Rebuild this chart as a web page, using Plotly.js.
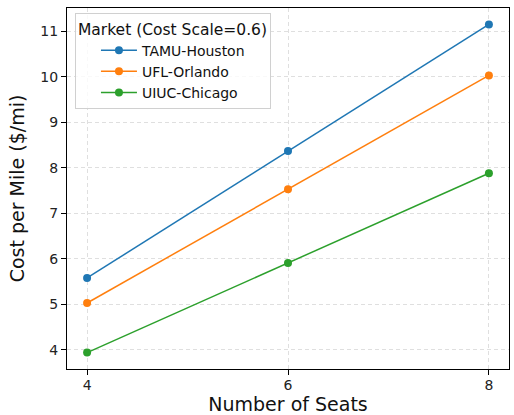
<!DOCTYPE html>
<html>
<head>
<meta charset="utf-8">
<script src="https://cdn.plot.ly/plotly-3.0.1.min.js"></script>
<style>html,body{margin:0;padding:0;background:#fff;}#chart{width:514px;height:415px;}</style>
</head>
<body>
<div id="chart"></div>
<script>
const seats = [4, 6, 8];
const tamuHouston = [5.58, 8.37, 11.15];
const uflOrlando = [5.03, 7.53, 10.03];
const uiucChicago = [3.94, 5.91, 7.88];
const seriesNames = ["TAMU-Houston", "UFL-Orlando", "UIUC-Chicago"];
const colors = ["#1f77b4", "#ff7f0e", "#2ca02c"];
const font = "DejaVu Sans, sans-serif";

const allY = [tamuHouston, uflOrlando, uiucChicago];
const traces = allY.map((ys, i) => ({
  x: seats, y: ys, name: seriesNames[i], type: "scatter", mode: "lines+markers",
  line: {color: colors[i], width: 1.5},
  marker: {color: colors[i], size: 8}
}));

const flat = allY.flat();
const ymin = Math.min(...flat), ymax = Math.max(...flat);
const ypad = (ymax - ymin) * 0.05;
const xpad = (Math.max(...seats) - Math.min(...seats)) * 0.05;

const axisCommon = {
  showline: true, mirror: true, linecolor: "#000", linewidth: 1,
  ticks: "outside", ticklen: 5, tickwidth: 1, tickcolor: "#000",
  showgrid: true, gridcolor: "rgba(176,176,176,0.4)", griddash: "4px,3px", gridwidth: 1,
  zeroline: false,
  tickfont: {family: font, size: 14, color: "#222"}
};

const layout = {
  width: 514, height: 415,
  margin: {l: 67, r: 5, t: 8, b: 46},
  paper_bgcolor: "#fff", plot_bgcolor: "#fff",
  showlegend: true,
  xaxis: Object.assign({}, axisCommon, {
    range: [Math.min(...seats) - xpad, Math.max(...seats) + xpad],
    tickvals: seats,
    ticklabelstandoff: -2,
    title: {text: "Number of Seats", font: {family: font, size: 19, color: "#111"}, standoff: 6}
  }),
  yaxis: Object.assign({}, axisCommon, {
    range: [ymin - ypad, ymax + ypad],
    dtick: 1,
    title: {text: "Cost per Mile ($/mi)", font: {family: font, size: 19, color: "#111"}, standoff: 10}
  }),
  legend: {
    x: 0.018, y: 0.985, xanchor: "left", yanchor: "top",
    bgcolor: "rgba(255,255,255,0.8)", bordercolor: "#d0d0d0", borderwidth: 1,
    font: {family: font, size: 14, color: "#111"},
    title: {text: "Market (Cost Scale=0.6)", font: {family: font, size: 15.5, color: "#111"}, side: "top"},
    tracegroupgap: 0, itemwidth: 36, indentation: 20
  }
};

Plotly.newPlot("chart", traces, layout, {displayModeBar: false, staticPlot: true});
</script>
</body>
</html>
